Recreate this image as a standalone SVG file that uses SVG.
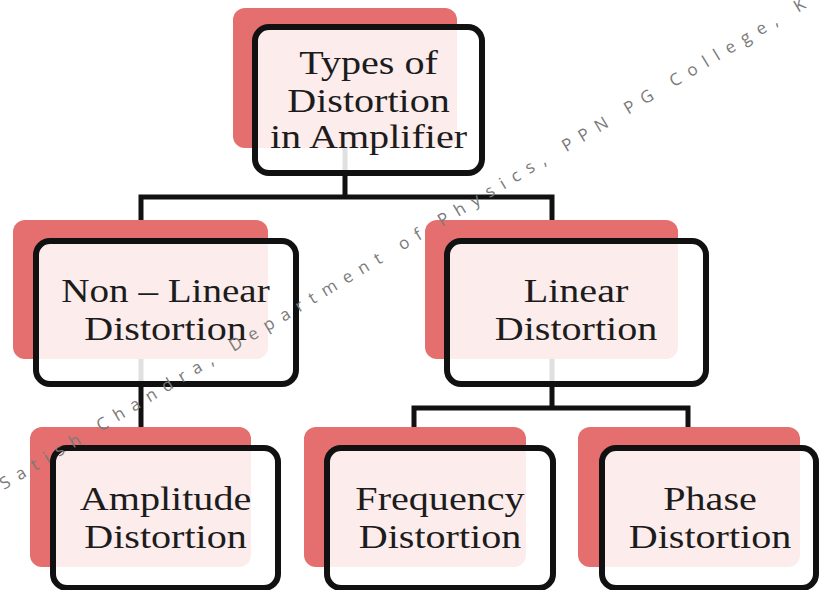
<svg xmlns="http://www.w3.org/2000/svg" width="820" height="590" viewBox="0 0 820 590">
  <style>
    .back { fill: #e56e6e; }
    .card { fill: #ffffff; fill-opacity: 0.87; stroke: #111111; stroke-width: 6; }
    .label { font-family: "Liberation Serif", "Times New Roman", serif; font-size: 34px; fill: #1c1c1c; text-anchor: middle; }
    .wire { fill: none; stroke: #111111; stroke-width: 5; stroke-linejoin: miter; }
    .mark { font-family: "Open Sans", "Noto Sans", sans-serif; font-size: 17px; fill: #7a7a7a; letter-spacing: 8.7px; }
  </style>
  <rect width="820" height="590" fill="#ffffff"/>

  <!-- tree connectors, drawn first so the cards sit on top -->
  <g id="connectors">
    <path class="wire" d="M345 120 V197 M141 197 H552 M141 194.5 V222 M552 194.5 V222"/>
    <path class="wire" d="M141 330 V429"/>
    <path class="wire" d="M552 330 V408 M414 408 H688 M414 405.5 V429 M688 405.5 V429"/>
  </g>

  <!-- labels use a slightly widened serif -->
  <g id="types">
    <rect class="back" x="233" y="8" width="224" height="140" rx="12"/>
    <rect class="card" x="255" y="27" width="227" height="146" rx="14"/>
    <text class="label" transform="translate(368.5 74) scale(1.18 1)">Types of</text>
    <text class="label" transform="translate(368.5 112) scale(1.18 1)">Distortion</text>
    <text class="label" transform="translate(368.5 148) scale(1.18 1)">in Amplifier</text>
  </g>

  <g id="nonlinear">
    <rect class="back" x="13" y="220" width="255" height="139" rx="12"/>
    <rect class="card" x="36" y="241" width="260" height="143" rx="14"/>
    <text class="label" transform="translate(165.5 302) scale(1.15 1)">Non – Linear</text>
    <text class="label" transform="translate(165.5 340) scale(1.18 1)">Distortion</text>
  </g>

  <g id="linear">
    <rect class="back" x="425" y="220" width="253" height="139" rx="12"/>
    <rect class="card" x="447" y="241" width="259" height="143" rx="14"/>
    <text class="label" transform="translate(576 302) scale(1.18 1)">Linear</text>
    <text class="label" transform="translate(576 340) scale(1.18 1)">Distortion</text>
  </g>

  <g id="amplitude">
    <rect class="back" x="30" y="427" width="221" height="140" rx="12"/>
    <rect class="card" x="53" y="448" width="225" height="140" rx="14"/>
    <text class="label" transform="translate(165.5 510) scale(1.18 1)">Amplitude</text>
    <text class="label" transform="translate(165.5 548) scale(1.18 1)">Distortion</text>
  </g>

  <g id="frequency">
    <rect class="back" x="304" y="427" width="222" height="140" rx="12"/>
    <rect class="card" x="327" y="448" width="226" height="140" rx="14"/>
    <text class="label" transform="translate(440 510) scale(1.18 1)">Frequency</text>
    <text class="label" transform="translate(440 548) scale(1.18 1)">Distortion</text>
  </g>

  <g id="phase">
    <rect class="back" x="578" y="427" width="222" height="140" rx="12"/>
    <rect class="card" x="602" y="448" width="214" height="140" rx="14"/>
    <text class="label" transform="translate(710 510) scale(1.18 1)">Phase</text>
    <text class="label" transform="translate(710 548) scale(1.18 1)">Distortion</text>
  </g>

  <!-- diagonal credit line -->
  <text class="mark" transform="translate(4 490) rotate(-31)">Satish Chandra, Department of Physics, PPN PG College, K</text>
</svg>
